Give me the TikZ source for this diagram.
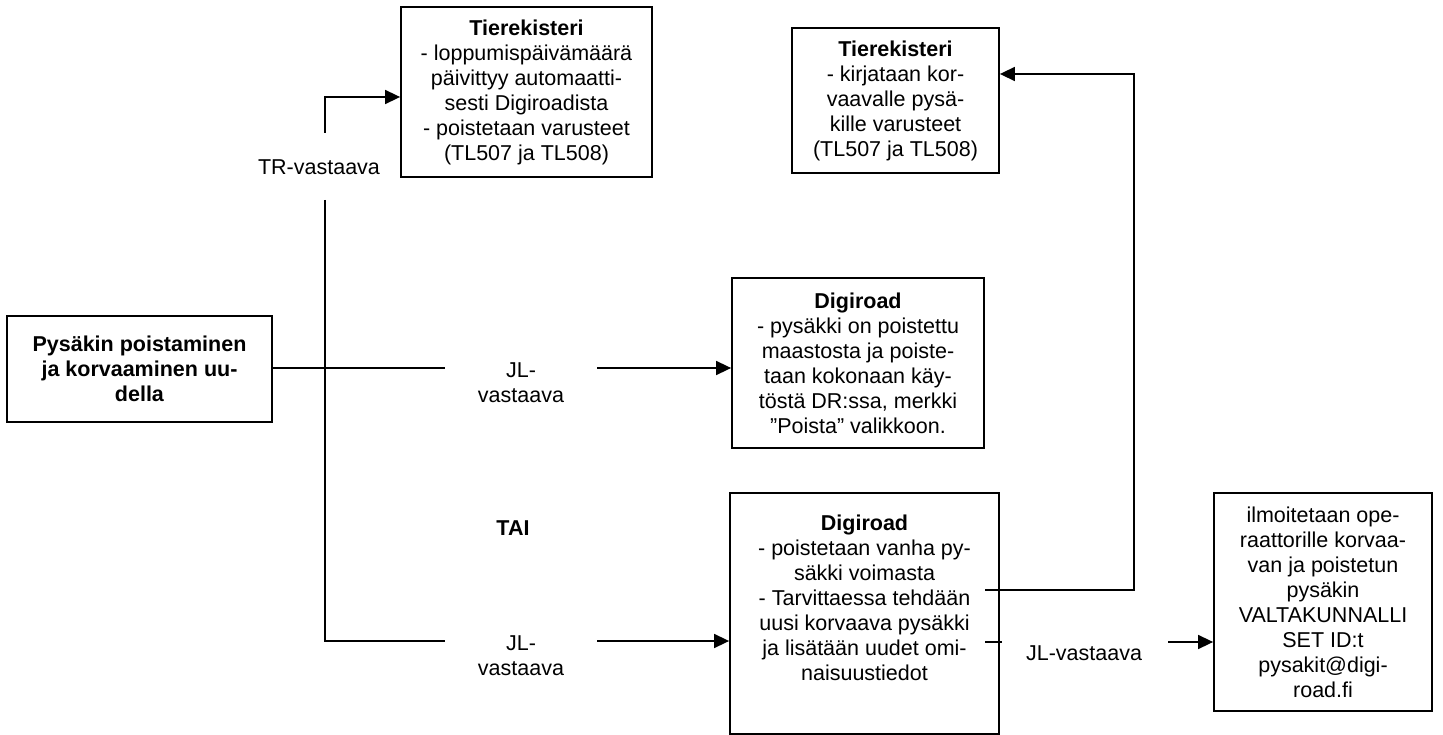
\documentclass[tikz,border=0pt]{standalone}
\usepackage{fontspec}
\setmainfont{Liberation Sans}
\usetikzlibrary{arrows.meta,calc}
\begin{document}
\begin{tikzpicture}[x=1pt,y=-1pt,
  every node/.style={font=\fontsize{21.5}{25}\selectfont, align=center, inner sep=0pt},
  box/.style={draw, line width=1.8pt, rectangle},
  conn/.style={line width=1.6pt},
  arr/.style={conn, -{Triangle[length=15pt,width=14pt]}}]
\useasboundingbox (0,0) rectangle (1443,735);

% boxes
\node[box, minimum width=265pt, minimum height=106pt] (p) at (139.5,369)
  {\textbf{Pysäkin poistaminen}\\\textbf{ja korvaaminen uu-}\\\textbf{della}};
\node[box, minimum width=251pt, minimum height=170pt] (tr1) at (526.5,92)
  {\textbf{Tierekisteri}\\- loppumispäivämäärä\\päivittyy automaatti-\\sesti Digiroadista\\- poistetaan varusteet\\(TL507 ja TL508)};
\node[box, minimum width=207pt, minimum height=145pt] (tr2) at (895.5,100.5)
  {\textbf{Tierekisteri}\\- kirjataan kor-\\vaavalle pysä-\\kille varusteet\\(TL507 ja TL508)};
\node[box, minimum width=252pt, minimum height=170pt] (d1) at (858,363)
  {\textbf{Digiroad}\\- pysäkki on poistettu\\maastosta ja poiste-\\taan kokonaan käy-\\töstä DR:ssa, merkki\\”Poista” valikkoon.};
\node[box, minimum width=269pt, minimum height=241pt] (d2) at (864.5,613.5)
  {\textbf{Digiroad}\\- poistetaan vanha py-\\säkki voimasta\\- Tarvittaessa tehdään\\uusi korvaava pysäkki\\ja lisätään uudet omi-\\naisuustiedot\\\strut};
\node[box, minimum width=218pt, minimum height=218pt] (last) at (1323,602)
  {ilmoitetaan ope-\\raattorille korvaa-\\van ja poistetun\\pysäkin\\VALTAKUNNALLI\\SET ID:t\\pysakit@digi-\\road.fi};

% labels
\node (trlab) at (319,167) {TR-vastaava};
\node (lab1) at (521,383) {JL-\\vastaava};
\node (tai) at (513,528) {\textbf{TAI}};
\node (lab3) at (521,656) {JL-\\vastaava};
\node (lab4) at (1084,653) {JL-vastaava};

% connector coordinates
\coordinate (tt) at (325,133);
\coordinate (tb) at (325,200);
\coordinate (g1) at (445,368);
\coordinate (g2) at (597,368);
\coordinate (g3) at (445,641);
\coordinate (g4) at (597,641);
\coordinate (r0) at (985,590);
\coordinate (rc) at (1134,74);
\coordinate (t0) at (985,642);
\coordinate (t1) at (1002,642);
\coordinate (a0) at (1168,642);

% connectors
\draw[arr] (tt) |- ([yshift=-5pt]tr1.west);
\draw[conn] (p.east |- g1) -- (g1);
\draw[arr] (g2) -- (g2 -| d1.west);
\draw[conn] (tb) |- (g3);
\draw[arr] (g4) -- (g4 -| d2.west);
\draw[arr] (r0) -| (rc) -- (rc -| tr2.east);
\draw[conn] (t0) -- (t1);
\draw[arr] (a0) -- (a0 -| last.west);
\end{tikzpicture}
\end{document}
